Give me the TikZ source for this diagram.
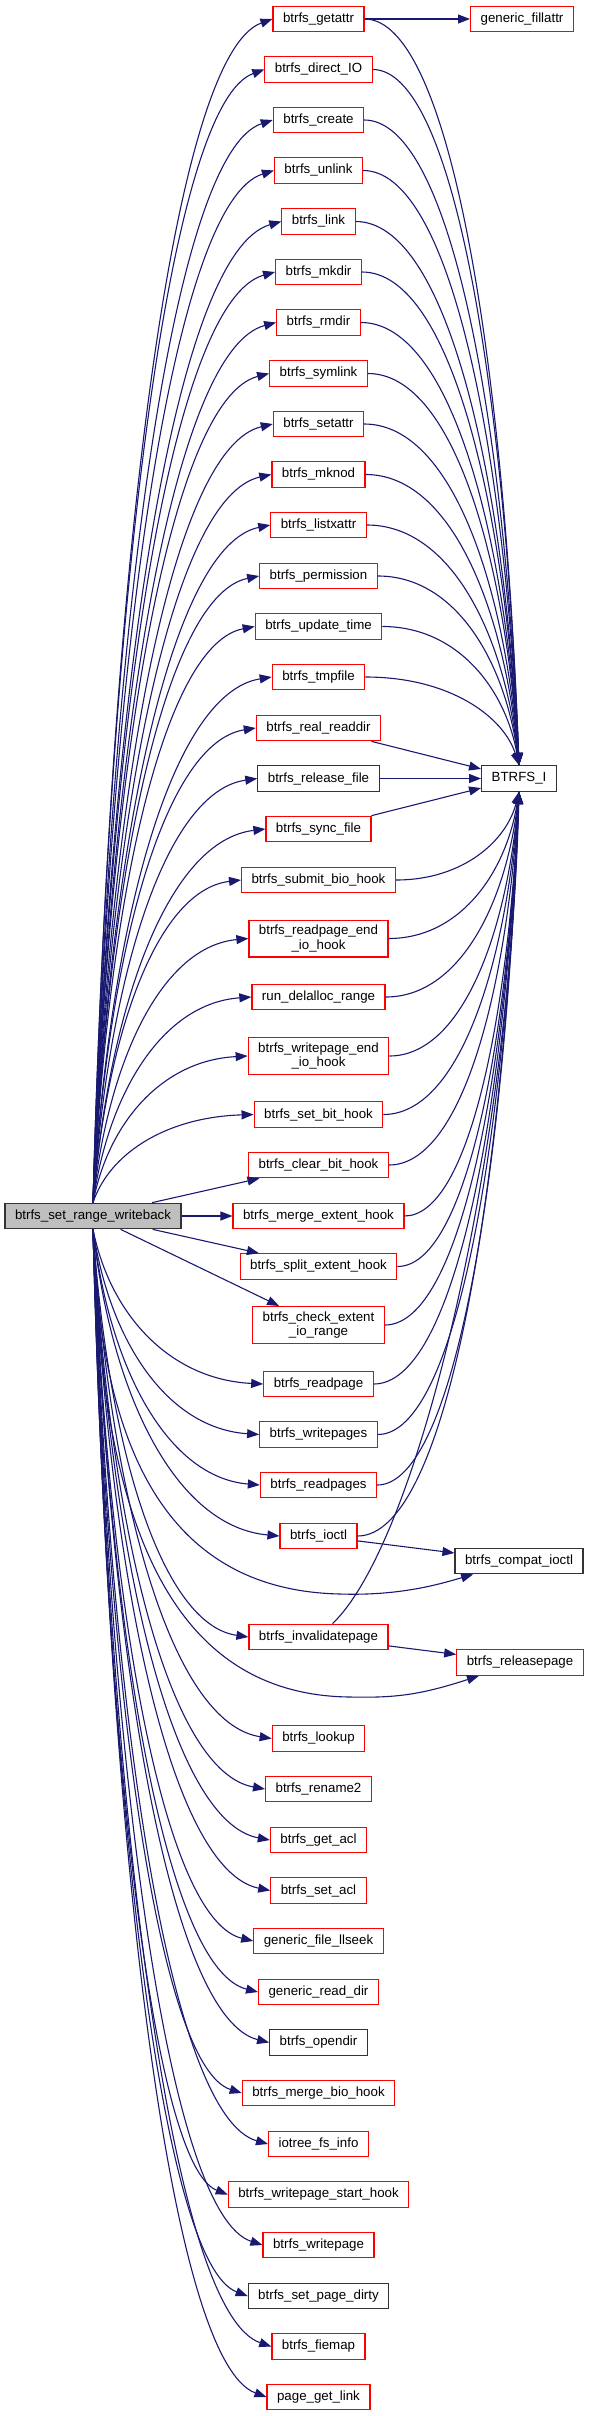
\documentclass[tikz,border=0pt]{standalone}
\usepackage{fontspec}
\setsansfont{Liberation Sans}
\usetikzlibrary{arrows.meta, calc}
\definecolor{EdgeNavy}{rgb}{0.1, 0.1, 0.44}
\definecolor{BoxRed}{rgb}{1, 0, 0}
\definecolor{RootGray}{rgb}{0.75, 0.75, 0.75}

\begin{document}
\begin{tikzpicture}[
    x=1pt, y=-1pt,
    font=\sffamily\fontsize{13.3}{14.5}\selectfont,
    call/.style={-{Triangle[length=12pt, width=9pt]}, line width=1.1pt, EdgeNavy},
    fun/.style={draw=BoxRed, line width=1.2pt, fill=white, inner xsep=10pt, inner ysep=5pt,
        minimum height=25.5pt, align=center},
    ext/.style={fun, draw=black!80},
    root/.style={fun, draw=black!80, fill=RootGray},
    fanout/.style={call, to path={let \p1=(\tikztostart), \p2=(\tikztotarget) in
        .. controls ({\x1+0.1*(\x2-\x1)}, {\y1+0.55*(\y2-\y1)})
               and ({\x1+0.45*(\x2-\x1)}, {\y2-0.03*(\y2-\y1)}) .. (\p2)}},
    fanin/.style={call, to path={let \p1=(\tikztostart), \p2=(\tikztotarget) in
        .. controls ({\x1+0.55*(\x2-\x1)}, {\y1})
               and ({\x2-0.1*(\x2-\x1)}, {\y1+0.45*(\y2-\y1)}) .. (\p2)}},
]
\useasboundingbox (0,0) rectangle (589,2416);

% ---- funcion raiz ----
\node[root] (srw) at (93,1216) {btrfs\_set\_range\_writeback};

% ---- llamadas directas (columna central) ----
\node[fun] (getattr)    at (318.5,19)     {btrfs\_getattr};
\node[fun] (directio)   at (318.5,69.5)   {btrfs\_direct\_IO};
\node[fun] (create)     at (318.5,120)    {btrfs\_create};
\node[fun] (unlink)     at (318.5,170.5)  {btrfs\_unlink};
\node[fun] (link)       at (318.5,221.5)  {btrfs\_link};
\node[fun] (mkdir)      at (318.5,272)    {btrfs\_mkdir};
\node[fun] (rmdir)      at (318.5,322.5)  {btrfs\_rmdir};
\node[fun] (symlink)    at (318.5,373.5)  {btrfs\_symlink};
\node[fun] (setattr)    at (318.5,424)    {btrfs\_setattr};
\node[fun] (mknod)      at (318.5,474.5)  {btrfs\_mknod};
\node[fun] (listxattr)  at (318.5,525)    {btrfs\_listxattr};
\node[fun] (permission) at (318.5,576)    {btrfs\_permission};
\node[fun] (updtime)    at (318.5,626.5)  {btrfs\_update\_time};
\node[fun] (tmpfile)    at (318.5,677)    {btrfs\_tmpfile};
\node[fun] (readdir)    at (318.5,728)    {btrfs\_real\_readdir};
\node[ext] (relfile)    at (318.5,778.5)  {btrfs\_release\_file};
\node[fun] (syncfile)   at (318.5,829)    {btrfs\_sync\_file};
\node[fun] (submitbio)  at (318.5,880)    {btrfs\_submit\_bio\_hook};
\node[fun] (rpendio)    at (318.5,938.5)  {btrfs\_readpage\_end\\\_io\_hook};
\node[fun] (delalloc)   at (318.5,997)    {run\_delalloc\_range};
\node[fun] (wpendio)    at (318.5,1056)   {btrfs\_writepage\_end\\\_io\_hook};
\node[fun] (setbit)     at (318.5,1114.5) {btrfs\_set\_bit\_hook};
\node[fun] (clearbit)   at (318.5,1165)   {btrfs\_clear\_bit\_hook};
\node[fun] (mergeext)   at (318.5,1216)   {btrfs\_merge\_extent\_hook};
\node[fun] (splitext)   at (318.5,1266.5) {btrfs\_split\_extent\_hook};
\node[fun] (checkext)   at (318.5,1325)   {btrfs\_check\_extent\\\_io\_range};
\node[fun] (readpage)   at (318.5,1384)   {btrfs\_readpage};
\node[fun] (writepages) at (318.5,1434.5) {btrfs\_writepages};
\node[fun] (readpages)  at (318.5,1485)   {btrfs\_readpages};
\node[fun] (ioctl)      at (318.5,1536)   {btrfs\_ioctl};
\node[fun] (invalpage)  at (318.5,1637)   {btrfs\_invalidatepage};
\node[fun] (lookup)     at (318.5,1738.5) {btrfs\_lookup};
\node[fun] (rename)     at (318.5,1789)   {btrfs\_rename2};
\node[fun] (getacl)     at (318.5,1840)   {btrfs\_get\_acl};
\node[fun] (setacl)     at (318.5,1890.5) {btrfs\_set\_acl};
\node[fun] (llseek)     at (318.5,1941)   {generic\_file\_llseek};
\node[fun] (genreaddir) at (318.5,1992)   {generic\_read\_dir};
\node[ext] (opendir)    at (318.5,2042.5) {btrfs\_opendir};
\node[fun] (mergebio)   at (318.5,2093)   {btrfs\_merge\_bio\_hook};
\node[fun] (iotree)     at (318.5,2144)   {iotree\_fs\_info};
\node[fun] (wpstart)    at (318.5,2194.5) {btrfs\_writepage\_start\_hook};
\node[fun] (writepage)  at (318.5,2245)   {btrfs\_writepage};
\node[ext] (setdirty)   at (318.5,2296)   {btrfs\_set\_page\_dirty};
\node[fun] (fiemap)     at (318.5,2346.5) {btrfs\_fiemap};
\node[fun] (getlink)    at (318.5,2397)   {page\_get\_link};

% ---- segundo nivel ----
\node[fun] (fillattr) at (522,19)     {generic\_fillattr};
\node[ext] (btrfsi)   at (519,778.5)  {BTRFS\_I};
\node[ext] (compat)   at (519,1561)   {btrfs\_compat\_ioctl};
\node[fun] (relpage)  at (520,1662.5) {btrfs\_releasepage};

% ---- aristas desde la raiz ----
\foreach \t in {getattr, directio, create, unlink, link, mkdir, rmdir, symlink, setattr, mknod,
    listxattr, permission, updtime, tmpfile, readdir, relfile, syncfile, submitbio, rpendio,
    delalloc, wpendio, setbit}
  \draw[fanout] (srw.north) to (\t.west);
\foreach \t in {clearbit, mergeext, splitext, checkext}
  \draw[call] (srw) -- (\t);
\foreach \t in {readpage, writepages, readpages, ioctl, invalpage, lookup, rename, getacl, setacl,
    llseek, genreaddir, opendir, mergebio, iotree, wpstart, writepage, setdirty, fiemap, getlink}
  \draw[fanout] (srw.south) to (\t.west);
\draw[call] (srw.south) .. controls (100,1420) and (150,1590) .. (340,1594)
    .. controls (400,1596) and (440,1584) .. (compat);
\draw[call] (srw.south) .. controls (100,1480) and (150,1695) .. (350,1697)
    .. controls (395,1698) and (420,1695) .. (relpage);

% ---- aristas hacia BTRFS_I ----
\foreach \t in {getattr, directio, create, unlink, link, mkdir, rmdir, symlink, setattr, mknod,
    listxattr, permission, updtime, tmpfile}
  \draw[fanin] (\t.east) to (btrfsi.north);
\foreach \t in {readdir, relfile, syncfile}
  \draw[call] (\t) -- (btrfsi);
\foreach \t in {submitbio, rpendio, delalloc, wpendio, setbit, clearbit, mergeext, splitext,
    checkext, readpage, writepages, readpages, ioctl}
  \draw[fanin] (\t.east) to (btrfsi.south);
\draw[call] (invalpage) .. controls (420,1540) and (510,1150) .. (btrfsi.south);

% ---- resto ----
\draw[call] (getattr) -- (fillattr);
\draw[call] (ioctl) -- (compat);
\draw[call] (invalpage) -- (relpage);

\end{tikzpicture}
\end{document}
